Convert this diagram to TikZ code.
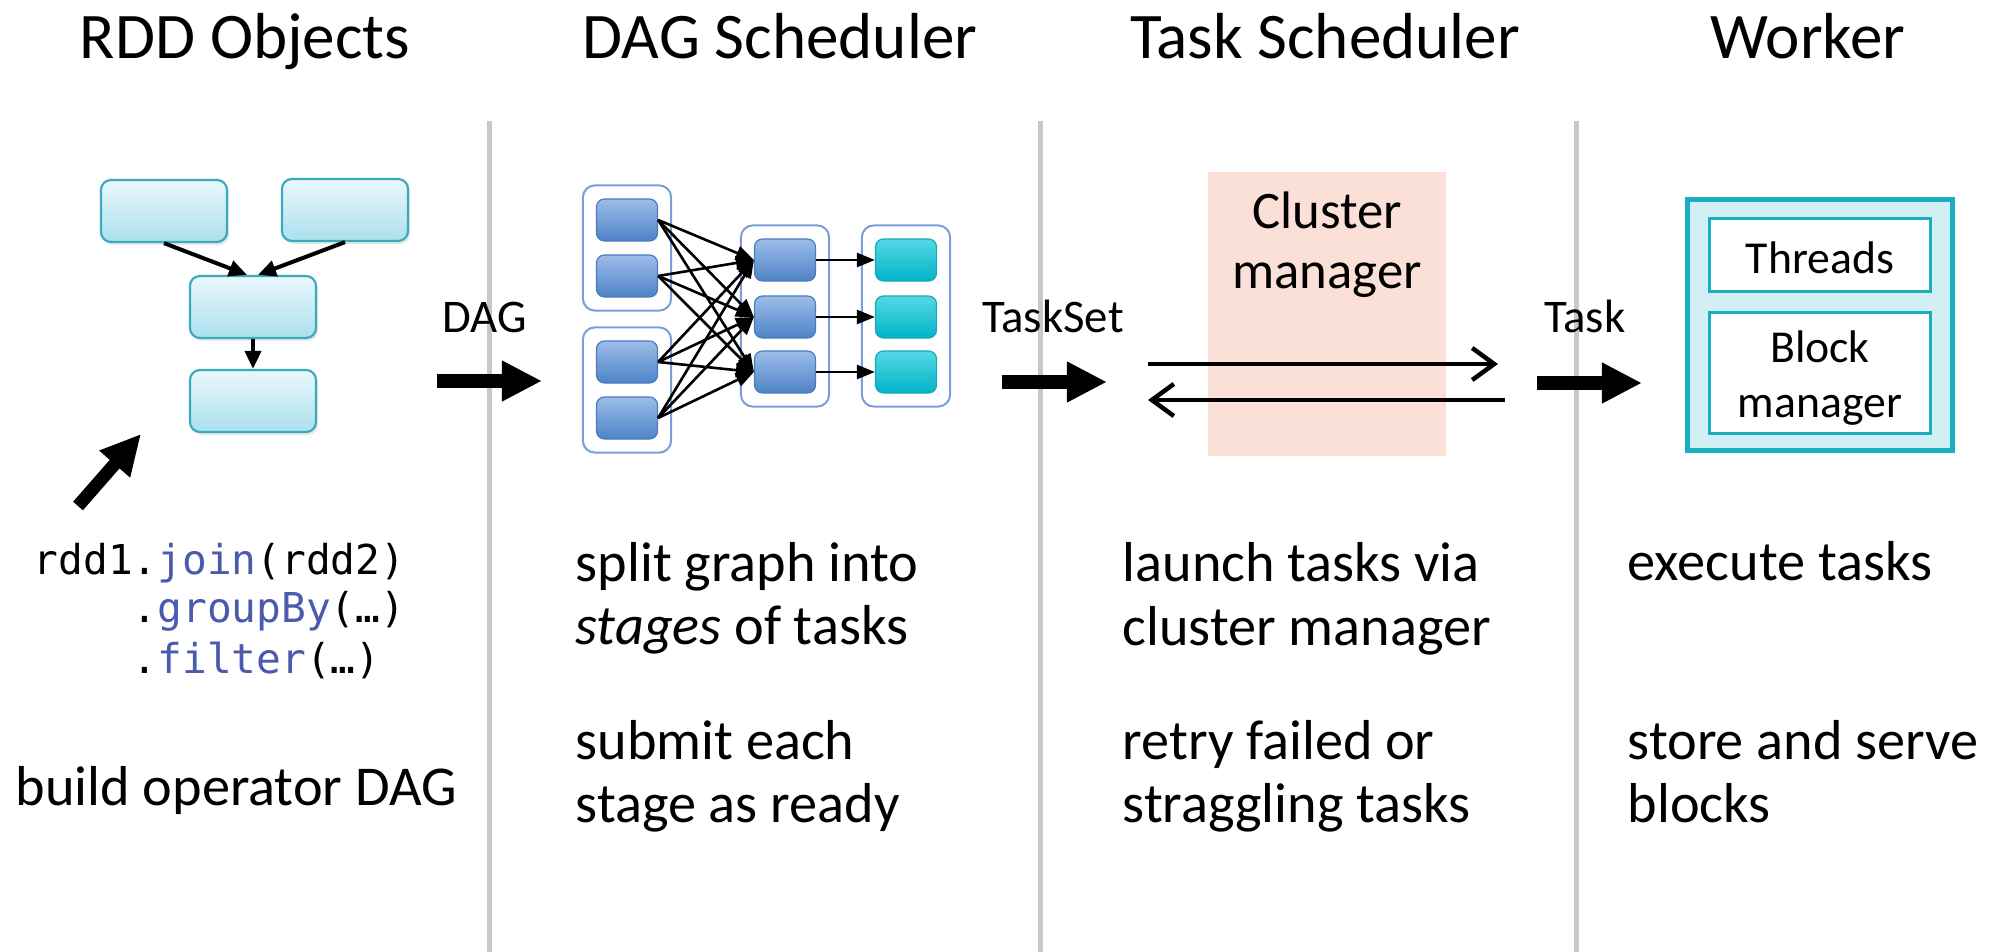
\documentclass[tikz,border=0pt]{standalone}
\usepackage{fontspec}
\setmainfont{Carlito}
\newfontfamily\codefont{DejaVu Sans Mono}
\usetikzlibrary{arrows.meta,fit,backgrounds,shadows}
\definecolor{rddtop}{HTML}{EAF8FC}
\definecolor{rddbot}{HTML}{ABE0EE}
\definecolor{rddborder}{HTML}{3AABBC}
\definecolor{bluetop}{HTML}{9DBDE9}
\definecolor{bluebot}{HTML}{4D83C6}
\definecolor{blueborder}{HTML}{4A7DBF}
\definecolor{cyantop}{HTML}{55D8E4}
\definecolor{cyanbot}{HTML}{00B4C8}
\definecolor{cyanborder}{HTML}{20A6B8}
\definecolor{stageborder}{HTML}{7C9ED8}
\definecolor{sepgray}{HTML}{C8C8C8}
\definecolor{clusterpink}{HTML}{FBE0D7}
\definecolor{workerteal}{HTML}{1AAFBF}
\definecolor{workerfill}{HTML}{D3EFF6}
\definecolor{codeblue}{HTML}{4A5BAE}
\newcommand{\kw}[1]{\textcolor{codeblue}{#1}}
\begin{document}
\begin{tikzpicture}[x=0.01cm,y=-0.01cm,
  every node/.style={inner sep=0pt},
  title/.style={font=\fontsize{18.5pt}{22pt}\selectfont, anchor=base},
  body/.style={font=\fontsize{16pt}{18pt}\selectfont, anchor=base west},
  code/.style={font=\codefont\fontsize{11.7pt}{14pt}\selectfont, anchor=base west},
  lbl/.style={font=\fontsize{13.3pt}{16pt}\selectfont, anchor=base},
  sepline/.style={draw=sepgray, line width=0.05cm},
  fat/.style={line width=0.13cm, -{Triangle[length=0.40cm,width=0.38cm]}},
  rdd/.style={draw=rddborder, line width=0.022cm, rounded corners=0.1cm,
    top color=rddtop, bottom color=rddbot, minimum width=1.26cm, minimum height=0.62cm,
    drop shadow={opacity=0.18,shadow xshift=0.02cm,shadow yshift=-0.03cm}},
  rddedge/.style={line width=0.04cm, -{Triangle[length=0.18cm,width=0.16cm]}},
  task/.style={draw=blueborder, line width=0.012cm, rounded corners=0.08cm,
    minimum width=0.61cm, minimum height=0.42cm, top color=bluetop, bottom color=bluebot},
  donetask/.style={task, draw=cyanborder, top color=cyantop, bottom color=cyanbot},
  stage/.style={draw=stageborder, line width=0.02cm, rounded corners=0.12cm, fill=white, inner sep=0.13cm},
  dagedge/.style={line width=0.026cm, -{Triangle[length=0.18cm,width=0.14cm]}},
  msg/.style={line width=0.045cm, -{Straight Barb[length=0.22cm,width=0.32cm]}},
  cmtext/.style={font=\fontsize{15pt}{18pt}\selectfont, anchor=base},
  part/.style={draw=workerteal, line width=0.03cm, fill=white, minimum width=2.21cm},
  parttext/.style={font=\fontsize{13pt}{15.6pt}\selectfont, anchor=base}
]
\useasboundingbox (0,0) rectangle (1993,952);

% column separators
\foreach \x in {489,1040,1576}
  \draw[sepline] (\x,121) -- (\x,952);

% titles
\node[title] (trdd) at (245,59) {RDD Objects};
\node[title] (tdag) at (780,59) {DAG Scheduler};
\node[title] (ttask) at (1325,59) {Task Scheduler};
\node[title] (twork) at (1808,59) {Worker};

% RDD objects
\node[rdd] (r1) at (164,211) {};
\node[rdd] (r2) at (345,210) {};
\node[rdd] (r3) at (253,307) {};
\node[rdd] (r4) at (253,401) {};
\draw[rddedge] (r1.south) -- ([xshift=-0.06cm]r3.north);
\draw[rddedge] (r2.south) -- ([xshift=0.05cm]r3.north);
\draw[rddedge] (r3.south) -- (r4.north);
\coordinate (codetail) at (78,506);
\coordinate (codetip) at (141,434);
\draw[fat] (codetail) -- (codetip);
\node[code] (code1) at (33,575) {rdd1.\kw{join}(rdd2)};
\node[code] (code2) at (33,623) {\phantom{rdd1}.\kw{groupBy}(…)};
\node[code] (code3) at (33,673) {\phantom{rdd1}.\kw{filter}(…)};
\node[body] (build) at (15,805) {build operator DAG};

% DAG scheduler
\node[lbl] (daglbl) at (485,333) {DAG};
\coordinate (dagtail) at (437,381);
\coordinate (dagtip) at (542,381);
\draw[fat] (dagtail) -- (dagtip);
\foreach \i/\y in {1/220,2/276,3/362,4/418}
  \node[task] (a\i) at (627,\y) {};
\foreach \i/\y in {1/260,2/317,3/372}
{
  \node[task] (b\i) at (785,\y) {};
  \node[donetask] (c\i) at (906,\y) {};
}
\begin{scope}[on background layer]
  \node[stage, fit=(a1)(a2)] (s1) {};
  \node[stage, fit=(a3)(a4)] (s2) {};
  \node[stage, fit=(b1)(b3)] (s3) {};
  \node[stage, fit=(c1)(c3)] (s4) {};
\end{scope}
\foreach \i in {1,...,4}
  \foreach \j in {1,2,3}
    \draw[dagedge] (a\i.east) -- (b\j.west);
\foreach \j in {1,2,3}
  \draw[dagedge] (b\j.east) -- (c\j.west);
\foreach \name/\y/\txt in {dagA/582/split graph into, dagB/645/{\textit{stages} of tasks},
    dagC/760/submit each, dagD/823/stage as ready}
  \node[body] (\name) at (575,\y) {\txt};

% task scheduler
\node[lbl] (tslbl) at (1053,333) {TaskSet};
\coordinate (tstail) at (1002,382);
\coordinate (tstip) at (1107,382);
\draw[fat] (tstail) -- (tstip);
\node[fill=clusterpink, minimum width=2.38cm, minimum height=2.83cm] (cluster) at (1327,314) {};
\node[cmtext] (cl1) at (1327,229) {Cluster};
\node[cmtext] (cl2) at (1327,289) {manager};
\coordinate (launchL) at (1148,364);
\coordinate (launchR) at (1498,364);
\coordinate (backR) at (1505,400);
\coordinate (backL) at (1148,400);
\draw[msg] (launchL) -- (launchR);
\draw[msg] (backR) -- (backL);
\foreach \name/\y/\txt in {tsA/582/launch tasks via, tsB/646/cluster manager,
    tsC/759/retry failed or, tsD/823/straggling tasks}
  \node[body] (\name) at (1122,\y) {\txt};

% worker
\node[lbl] (tasklbl) at (1585,333) {Task};
\coordinate (tasktail) at (1537,383);
\coordinate (tasktip) at (1642,383);
\draw[fat] (tasktail) -- (tasktip);
\node[draw=workerteal, line width=0.05cm, fill=workerfill, minimum width=2.64cm, minimum height=2.51cm] (worker) at (1820,325) {};
\node[part, minimum height=0.72cm] (threads) at (1820,255) {};
\node[part, minimum height=1.20cm] (blockmgr) at (1820,373) {};
\node[parttext] (thr) at (threads |- 0,274) {Threads};
\node[parttext] (blk1) at (blockmgr |- 0,363) {Block};
\node[parttext] (blk2) at (blockmgr |- 0,418) {manager};
\foreach \name/\y/\txt in {wA/581/execute tasks, wB/760/store and serve, wC/823/blocks}
  \node[body] (\name) at (1627,\y) {\txt};
\end{tikzpicture}
\end{document}
